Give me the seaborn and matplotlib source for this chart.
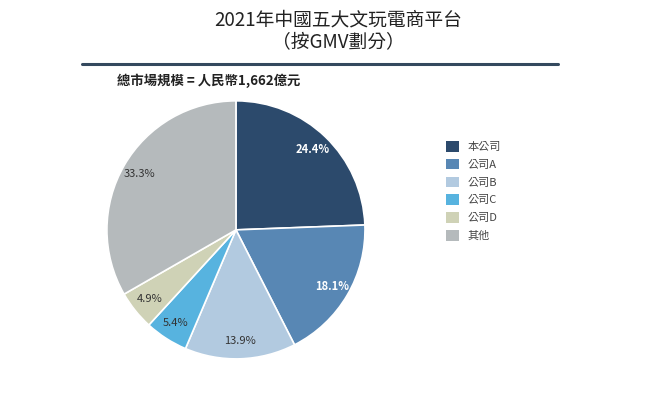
import matplotlib
matplotlib.use("Agg")
import matplotlib.pyplot as plt
import seaborn as sns
from matplotlib.lines import Line2D
from matplotlib.patches import Patch

sns.set_theme(style="white")
plt.rcParams["font.family"] = ["Noto Sans CJK TC", "DejaVu Sans"]

# 數據
labels = ["本公司", "公司A", "公司B", "公司C", "公司D", "其他"]
shares = [24.4, 18.1, 13.9, 5.4, 4.9, 33.3]
colors = ["#2c4a6c", "#5887b4", "#b2cae0", "#57b3df", "#cfd2b6", "#b5babc"]
text_colors = ["white", "white", "#333333", "#333333", "#333333", "#333333"]

title = "2021年中國五大文玩電商平台\n（按GMV劃分）"
subtitle = "總市場規模 = 人民幣1,662億元"

palette = sns.color_palette(colors)

fig = plt.figure(figsize=(6.6, 3.97), dpi=100)
fig.patch.set_facecolor("white")

fig.text(0.513, 0.977, title, ha="center", va="top", fontsize=13.5,
         color="#222222", linespacing=1.12)
fig.add_artist(Line2D([0.124, 0.845], [0.839, 0.839], color="#34495e",
                      linewidth=2.2, transform=fig.transFigure))
fig.text(0.177, 0.797, subtitle, ha="left", va="center", fontsize=9.6,
         fontweight="bold", color="#222222")

ax = fig.add_axes([0.162, 0.096, 0.391, 0.65])
wedges, _, autotexts = ax.pie(
    shares, colors=palette, startangle=90, counterclock=False,
    autopct="%.1f%%", pctdistance=0.86,
    wedgeprops=dict(edgecolor="white", linewidth=1.2),
    textprops=dict(fontsize=8),
)
for t, c in zip(autotexts, text_colors):
    t.set_color(c)
    t.set_fontweight("bold" if c == "white" else "normal")
ax.set_xlim(-1.0, 1.0)
ax.set_ylim(-1.0, 1.0)
ax.set_aspect("equal")
ax.axis("off")

handles = [Patch(facecolor=c, edgecolor="none") for c in palette]
fig.legend(handles, labels, loc="upper left", bbox_to_anchor=(0.66, 0.67),
           frameon=False, fontsize=8, handlelength=1.2, handleheight=1.1,
           labelspacing=0.6, handletextpad=0.75, labelcolor="#444444")

fig.savefig("out.png", dpi=100, facecolor="white")
